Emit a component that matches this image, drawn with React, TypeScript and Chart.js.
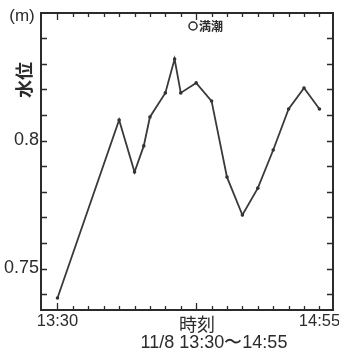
import React, { useEffect, useRef } from 'react';
import { Chart, registerables } from 'chart.js';

Chart.register(...registerables);

// Data: minutes after 13:30 on 11/8, water level (m)
const timeLabels = ['13:30', '13:50', '13:55', '13:58', '14:00', '14:05', '14:08', '14:10', '14:15', '14:20', '14:25', '14:30', '14:35', '14:40', '14:45', '14:50', '14:55'];
const minutesFromStart = [0, 20, 25, 28, 30, 35, 38, 40, 45, 50, 55, 60, 65, 70, 75, 80, 85];
const waterLevel = [0.7385, 0.808, 0.7877, 0.7979, 0.8092, 0.8186, 0.8318, 0.8186, 0.8225, 0.8154, 0.7857, 0.7709, 0.7814, 0.7963, 0.8123, 0.8205, 0.8123];

const xTickMinutes = [0, 5, 10, 15, 20, 25, 30, 35, 40, 45, 50, 55, 60, 65, 70, 75, 80, 85];
const xTickLabels = ['13:30', '', '', '', '', '', '', '', '', '', '', '', '', '', '', '', '', '14:55'];
const yTickValues = [0.74, 0.75, 0.76, 0.77, 0.78, 0.79, 0.8, 0.81, 0.82, 0.83, 0.84];
const yTickLabels = ['', '0.75', '', '', '', '', '0.8', '', '', '', ''];

const legendLabel = '満潮';
const yTitle = '水位';
const yUnit = '(m)';
const xTitle = '時刻';
const xSubTitle = '11/8 13:30〜14:55';

const INK = '#2b2b2b';
const LATIN = '"Liberation Sans", Arial, sans-serif';
const CJK = '"Noto Sans CJK JP", "Liberation Sans", sans-serif';

const framePlugin = {
  id: 'framePlugin',
  afterDraw(chart: any) {
    const ctx = chart.ctx;
    const { left, right, top, bottom } = chart.chartArea;
    const xs = chart.scales.x;
    const ys = chart.scales.y;
    ctx.save();
    ctx.strokeStyle = INK;
    ctx.lineWidth = 1.3;
    ctx.beginPath();
    xs.ticks.forEach((t: any) => {
      const px = Math.round(xs.getPixelForValue(t.value)) + 0.5;
      const len = t.value === 0 || t.value === 45 ? 7 : 4;
      ctx.moveTo(px, bottom);
      ctx.lineTo(px, bottom - len);
      ctx.moveTo(px, top);
      ctx.lineTo(px, top + len);
    });
    ys.ticks.forEach((t: any) => {
      const py = Math.round(ys.getPixelForValue(t.value)) + 0.5;
      ctx.moveTo(left, py);
      ctx.lineTo(left + 6, py);
      ctx.moveTo(right, py);
      ctx.lineTo(right - 6, py);
    });
    ctx.stroke();
    ctx.lineWidth = 2;
    ctx.strokeRect(left, top, right - left, bottom - top);

    // axis texts
    ctx.fillStyle = INK;
    ctx.textBaseline = 'middle';
    ctx.textAlign = 'center';
    ctx.font = `17px ${LATIN}`;
    ctx.fillText(yUnit, 22, 16);
    ctx.font = `18px ${CJK}`;
    ctx.fillText(xTitle, 197, 324);
    ctx.font = `18px ${LATIN}`;
    ctx.fillText(xSubTitle, 214, 343);
    ctx.save();
    ctx.translate(24, 80);
    ctx.rotate(-Math.PI / 2);
    ctx.font = `bold 18px ${CJK}`;
    ctx.fillText(yTitle, 0, 0);
    ctx.restore();

    // legend
    ctx.lineWidth = 1.5;
    ctx.beginPath();
    ctx.arc(193, 26, 4, 0, Math.PI * 2);
    ctx.stroke();
    ctx.textAlign = 'left';
    ctx.font = `bold 12px ${CJK}`;
    ctx.fillText(legendLabel, 199, 26);
    ctx.restore();
  },
};

export default function App() {
  const ref = useRef<HTMLCanvasElement | null>(null);
  useEffect(() => {
    document.body.style.margin = '0';
    const canvas = ref.current!;
    const chart = new Chart(canvas, {
      type: 'line',
      data: {
        labels: timeLabels,
        datasets: [
          {
            label: legendLabel,
            data: minutesFromStart.map((m, i) => ({ x: m, y: waterLevel[i] })),
            borderColor: '#3a3a3a',
            backgroundColor: '#3a3a3a',
            borderWidth: 1.8,
            pointRadius: 1.8,
            pointBorderWidth: 0,
            pointBackgroundColor: '#333',
            tension: 0,
          },
        ],
      },
      options: {
        responsive: false,
        animation: false,
        devicePixelRatio: 1,
        layout: { padding: { top: 13, right: 6, left: 0, bottom: 0 } },
        plugins: { legend: { display: false }, tooltip: { enabled: false } },
        scales: {
          x: {
            type: 'linear',
            min: -5.35,
            max: 89.4,
            grid: { display: false, drawTicks: false, tickLength: 0 },
            border: { display: false },
            afterBuildTicks: (s: any) => {
              s.ticks = xTickMinutes.map((v) => ({ value: v }));
            },
            afterFit: (s: any) => {
              s.height = 45;
              s.paddingLeft = 0;
              s.paddingRight = 0;
            },
            ticks: {
              autoSkip: false,
              maxRotation: 0,
              padding: 2,
              color: INK,
              font: { size: 16.5, family: LATIN },
              callback: (_v: any, i: number) => xTickLabels[i],
            },
          },
          y: {
            type: 'linear',
            min: 0.7338,
            max: 0.8498,
            grid: { display: false, drawTicks: false, tickLength: 0 },
            border: { display: false },
            afterBuildTicks: (s: any) => {
              s.ticks = yTickValues.map((v) => ({ value: v }));
            },
            afterFit: (s: any) => {
              s.width = 41;
              s.paddingTop = 0;
              s.paddingBottom = 0;
            },
            ticks: {
              autoSkip: false,
              padding: 2,
              color: INK,
              font: { size: 18, family: LATIN },
              callback: (_v: any, i: number) => yTickLabels[i],
            },
          },
        },
      },
      plugins: [framePlugin],
    });
    return () => chart.destroy();
  }, []);
  return <canvas ref={ref} width={339} height={355} style={{ display: 'block' }} />;
}
